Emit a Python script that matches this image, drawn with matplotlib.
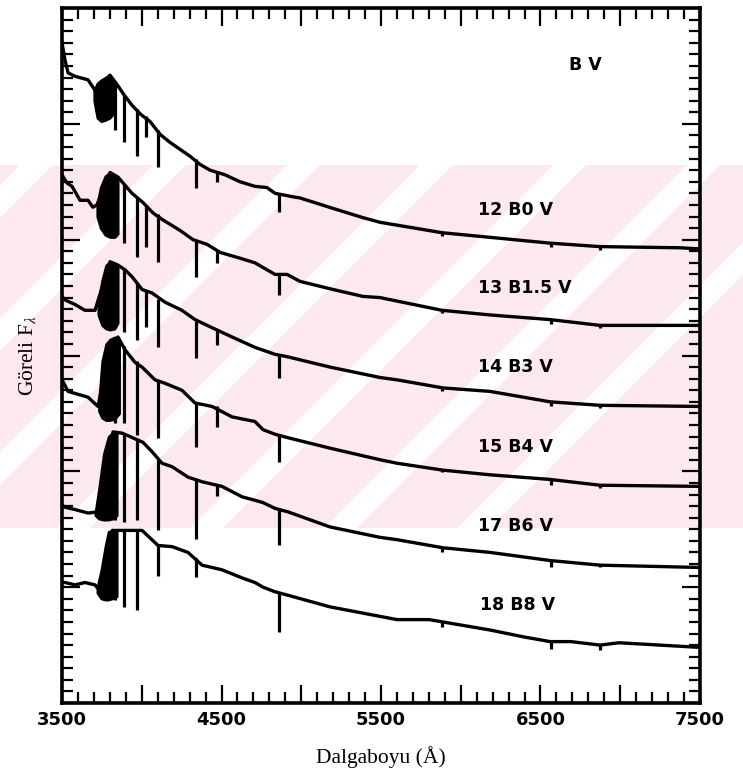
import numpy as np
import matplotlib.pyplot as plt
from matplotlib.ticker import MultipleLocator, FuncFormatter
from matplotlib.patches import Rectangle, Polygon

plt.rcParams['mathtext.fontset'] = 'stix'

# spectral labels (star no, type)
labels = ["12 B0 V", "13 B1.5 V", "14 B3 V", "15 B4 V", "17 B6 V", "18 B8 V"]
label_wl = [6110, 6110, 6110, 6110, 6110, 6120]
label_y = [42.6, 35.8, 29.0, 22.1, 15.3, 8.5]

# pseudo-continuum traces (wavelength in A, relative flux)
s1_wl = [3500, 3519, 3538, 3582, 3663, 3707, 3801, 3845, 3889, 3939, 3995, 4052, 4114, 4177,
         4240, 4303, 4365, 4428, 4522, 4616, 4710, 4785, 4836, 4948, 4992, 5199, 5387, 5494,
         5883, 6184, 6560, 6873, 7375, 7500]
s1_f = [57.0, 55.5, 54.4, 54.1, 53.8, 52.9, 54.2, 53.4, 52.5, 51.6, 50.8, 50.2, 49.1, 48.4,
        47.8, 47.2, 46.5, 46.0, 45.6, 45.0, 44.6, 44.5, 44.0, 43.7, 43.6, 42.7, 41.9, 41.5,
        40.6, 40.2, 39.7, 39.4, 39.3, 39.2]

s2_wl = [3500, 3531, 3563, 3613, 3663, 3694, 3719, 3801, 3851, 3895, 3939, 4008, 4071, 4133,
         4240, 4321, 4409, 4491, 4616, 4710, 4785, 4836, 4911, 4992, 5199, 5387, 5494, 5883,
         6184, 6560, 6873, 7500]
s2_f = [45.6, 44.9, 44.6, 43.4, 43.4, 42.8, 43.0, 45.8, 45.4, 44.7, 44.0, 43.2, 42.3, 41.7,
        40.8, 40.0, 39.6, 38.9, 38.4, 38.0, 37.4, 37.0, 37.0, 36.4, 35.7, 35.1, 35.0, 33.9,
        33.5, 33.1, 32.6, 32.6]

s3_wl = [3500, 3519, 3582, 3644, 3707, 3801, 3851, 3895, 3939, 4002, 4064, 4146, 4252, 4334,
         4441, 4566, 4710, 4836, 4911, 5180, 5494, 5600, 5889, 6184, 6560, 6873, 7500]
s3_f = [35.1, 34.8, 34.4, 33.9, 33.9, 38.1, 37.8, 37.4, 36.8, 35.7, 35.4, 34.6, 33.9, 33.1,
        32.4, 31.6, 30.7, 30.1, 29.9, 29.0, 28.1, 27.9, 27.2, 26.9, 26.0, 25.7, 25.6]

s4_wl = [3500, 3538, 3663, 3726, 3801, 3851, 3895, 3958, 4002, 4083, 4146, 4252, 4334, 4441,
         4566, 4710, 4760, 4836, 4917, 5180, 5494, 5600, 5889, 6184, 6560, 6873, 7500]
s4_f = [27.9, 26.9, 26.4, 25.6, 30.9, 31.6, 30.5, 29.4, 29.0, 27.9, 27.6, 27.0, 25.9, 25.6,
        24.7, 24.3, 23.6, 23.2, 22.9, 22.0, 21.0, 20.7, 20.1, 19.7, 19.3, 18.8, 18.7]

s5_wl = [3500, 3519, 3582, 3663, 3726, 3820, 3876, 3926, 4008, 4064, 4127, 4190, 4290, 4378,
         4503, 4629, 4710, 4760, 4836, 4917, 5180, 5494, 5600, 5889, 6184, 6560, 6873, 7500]
s5_f = [17.1, 16.9, 16.7, 16.4, 16.5, 23.4, 23.3, 23.0, 22.5, 21.7, 20.7, 20.4, 19.5, 19.1,
        18.7, 17.8, 17.5, 17.3, 16.8, 16.5, 15.2, 14.3, 14.1, 13.4, 13.0, 12.3, 11.9, 11.7]

s6_wl = [3500, 3519, 3582, 3644, 3707, 3770, 3815, 4002, 4102, 4190, 4290, 4378, 4503, 4629,
         4710, 4760, 4836, 4917, 5180, 5600, 5801, 6184, 6397, 6560, 6691, 6873, 6992, 7500]
s6_f = [10.4, 10.4, 10.2, 10.4, 10.2, 9.1, 14.9, 14.9, 13.6, 13.5, 13.0, 11.9, 11.5, 10.8,
        10.4, 10.0, 9.6, 9.3, 8.3, 7.2, 7.2, 6.3, 5.7, 5.3, 5.3, 5.0, 5.2, 4.8]

# blended high Balmer series region (lower / upper envelope)
s1_bl_wl = [3700, 3720, 3745, 3770, 3800, 3830]
s1_bl_lo = [52.0, 50.5, 50.2, 50.3, 50.5, 51.0]
s1_bl_hi = [52.9, 53.5, 53.8, 54.0, 54.2, 53.5]
s2_bl_wl = [3719, 3740, 3770, 3800, 3830, 3851]
s2_bl_lo = [42.0, 41.0, 40.4, 40.2, 40.2, 40.5]
s2_bl_hi = [43.0, 44.5, 45.5, 45.8, 45.6, 45.4]
s3_bl_wl = [3726, 3750, 3775, 3800, 3830, 3851]
s3_bl_lo = [33.5, 32.6, 32.3, 32.2, 32.3, 32.8]
s3_bl_hi = [34.6, 36.5, 37.8, 38.1, 38.0, 37.8]
s4_bl_wl = [3730, 3750, 3775, 3800, 3830, 3860]
s4_bl_lo = [25.2, 24.6, 24.4, 24.4, 24.5, 25.0]
s4_bl_hi = [26.0, 29.5, 31.0, 31.4, 31.6, 31.2]
s5_bl_wl = [3707, 3730, 3760, 3790, 3820, 3845]
s5_bl_lo = [16.2, 15.9, 15.8, 15.8, 15.9, 16.2]
s5_bl_hi = [16.4, 18.5, 21.5, 23.0, 23.4, 23.3]
s6_bl_wl = [3720, 3745, 3770, 3790, 3815, 3845]
s6_bl_lo = [9.5, 9.0, 8.9, 8.9, 9.0, 9.2]
s6_bl_hi = [10.0, 11.5, 13.5, 14.8, 14.9, 14.9]

# absorption lines: wavelength, flux at line edge, flux at line core
s1_ln_wl = [3835, 3889, 3970, 4026, 4101, 4340, 4471, 4861, 5883, 6563, 6870]
s1_ln_top = [53.4, 52.5, 51.3, 50.7, 49.5, 47.0, 45.9, 44.0, 40.6, 39.7, 39.4]
s1_ln_bot = [49.5, 48.4, 47.2, 48.9, 46.3, 44.5, 45.0, 42.4, 40.3, 39.4, 39.1]
s2_ln_wl = [3835, 3889, 3970, 4026, 4101, 4340, 4471, 4861, 5883, 6563, 6870]
s2_ln_top = [45.6, 44.8, 43.6, 43.0, 42.2, 39.9, 39.0, 37.1, 33.9, 33.1, 32.6]
s2_ln_bot = [40.2, 39.7, 38.5, 39.4, 38.1, 36.8, 38.0, 35.2, 33.7, 32.7, 32.4]
s3_ln_wl = [3835, 3889, 3970, 4026, 4101, 4340, 4471, 4861, 5883, 6563, 6870]
s3_ln_top = [38.0, 37.5, 36.3, 35.6, 34.9, 33.0, 32.2, 30.0, 27.2, 26.0, 25.7]
s3_ln_bot = [32.4, 32.0, 31.3, 32.5, 30.7, 29.8, 30.9, 28.1, 26.9, 25.6, 25.5]
s4_ln_wl = [3835, 3889, 3970, 4101, 4340, 4471, 4861, 5883, 6563, 6870]
s4_ln_top = [31.6, 30.8, 29.5, 27.8, 25.9, 25.6, 23.1, 20.1, 19.3, 18.8]
s4_ln_bot = [24.2, 24.2, 23.1, 22.9, 22.1, 23.8, 20.8, 19.9, 18.8, 18.6]
s5_ln_wl = [3835, 3889, 3970, 4101, 4340, 4471, 4861, 5883, 6563, 6870]
s5_ln_top = [23.4, 23.3, 22.8, 21.0, 19.3, 18.8, 16.8, 13.4, 12.3, 11.9]
s5_ln_bot = [15.8, 15.6, 15.8, 14.9, 14.2, 17.9, 13.6, 13.0, 11.7, 11.7]
s6_ln_wl = [3835, 3889, 3970, 4101, 4340, 4861, 5883, 6563, 6870]
s6_ln_top = [14.9, 14.9, 14.9, 13.6, 12.5, 9.6, 7.0, 5.3, 5.0]
s6_ln_bot = [8.9, 8.3, 8.0, 11.0, 10.9, 6.1, 6.6, 4.7, 4.6]

spectra = [
    (s1_wl, s1_f, s1_bl_wl, s1_bl_lo, s1_bl_hi, s1_ln_wl, s1_ln_top, s1_ln_bot),
    (s2_wl, s2_f, s2_bl_wl, s2_bl_lo, s2_bl_hi, s2_ln_wl, s2_ln_top, s2_ln_bot),
    (s3_wl, s3_f, s3_bl_wl, s3_bl_lo, s3_bl_hi, s3_ln_wl, s3_ln_top, s3_ln_bot),
    (s4_wl, s4_f, s4_bl_wl, s4_bl_lo, s4_bl_hi, s4_ln_wl, s4_ln_top, s4_ln_bot),
    (s5_wl, s5_f, s5_bl_wl, s5_bl_lo, s5_bl_hi, s5_ln_wl, s5_ln_top, s5_ln_bot),
    (s6_wl, s6_f, s6_bl_wl, s6_bl_lo, s6_bl_hi, s6_ln_wl, s6_ln_top, s6_ln_bot),
]

W, H = 743, 778
fig = plt.figure(figsize=(W / 100, H / 100), dpi=100)

# faint pink thesis watermark behind the plot
pink = '#fce9ee'
band_lo, band_hi = 1 - 528 / H, 1 - 165 / H
band = Rectangle((0, band_lo), 1, band_hi - band_lo, transform=fig.transFigure,
                 facecolor=pink, edgecolor='none', zorder=-3)
fig.patches.append(band)
for x0 in [-246, -113, 20, 153, 287, 420, 553, 687, 820]:
    xs = [x0, x0 + 33, x0 + 33 - 363, x0 - 363]
    ys = [165, 165, 528, 528]
    stripe = Polygon([(x / W, 1 - y / H) for x, y in zip(xs, ys)], closed=True,
                     transform=fig.transFigure, facecolor='white', edgecolor='none', zorder=-2)
    stripe.set_clip_path(band)
    fig.patches.append(stripe)

ax = fig.add_axes([62 / W, 1 - 703 / H, 638 / W, 695 / H])
ax.patch.set_alpha(0)

for wl, f, bwl, blo, bhi, lwl, ltop, lbot in spectra:
    ax.plot(wl, f, color='black', lw=2.4, solid_joinstyle='round', zorder=3)
    ax.fill_between(bwl, blo, bhi, color='black', lw=1.5, zorder=3)
    ax.vlines(lwl, lbot, ltop, color='black', lw=2.3, zorder=3)

bold = dict(fontsize=12.5, fontweight='bold', family='DejaVu Sans')
for txt, lx, ly in zip(labels, label_wl, label_y):
    ax.text(lx, ly, txt, ha='left', va='center', **bold)
ax.text(6780, 55.1, "B V", ha='center', va='center', **bold)

ax.set_xlim(3500, 7500)
ax.set_ylim(0, 60)
ax.xaxis.set_major_locator(MultipleLocator(500))
ax.xaxis.set_minor_locator(MultipleLocator(100))
ax.yaxis.set_major_locator(MultipleLocator(10))
ax.yaxis.set_minor_locator(MultipleLocator(1))
ax.xaxis.set_major_formatter(FuncFormatter(lambda v, p: "%d" % v if (v - 3500) % 1000 == 0 else ""))
ax.yaxis.set_major_formatter(FuncFormatter(lambda v, p: ""))
ax.tick_params(which='both', direction='in', top=True, right=True, width=1.6)
ax.tick_params(which='major', length=13)
ax.tick_params(which='minor', length=8)
ax.tick_params(axis='x', labelsize=13, pad=6)
for lab in ax.get_xticklabels():
    lab.set_fontweight('bold')
for s in ax.spines.values():
    s.set_linewidth(2.6)

ax.set_xlabel("Dalgaboyu (Å)", family='Liberation Serif', fontsize=15.5, labelpad=12)
ax.set_ylabel("Göreli F$_{\\lambda}$", family='Liberation Serif', fontsize=15.5, labelpad=14)

fig.savefig("out.png", dpi=100)
